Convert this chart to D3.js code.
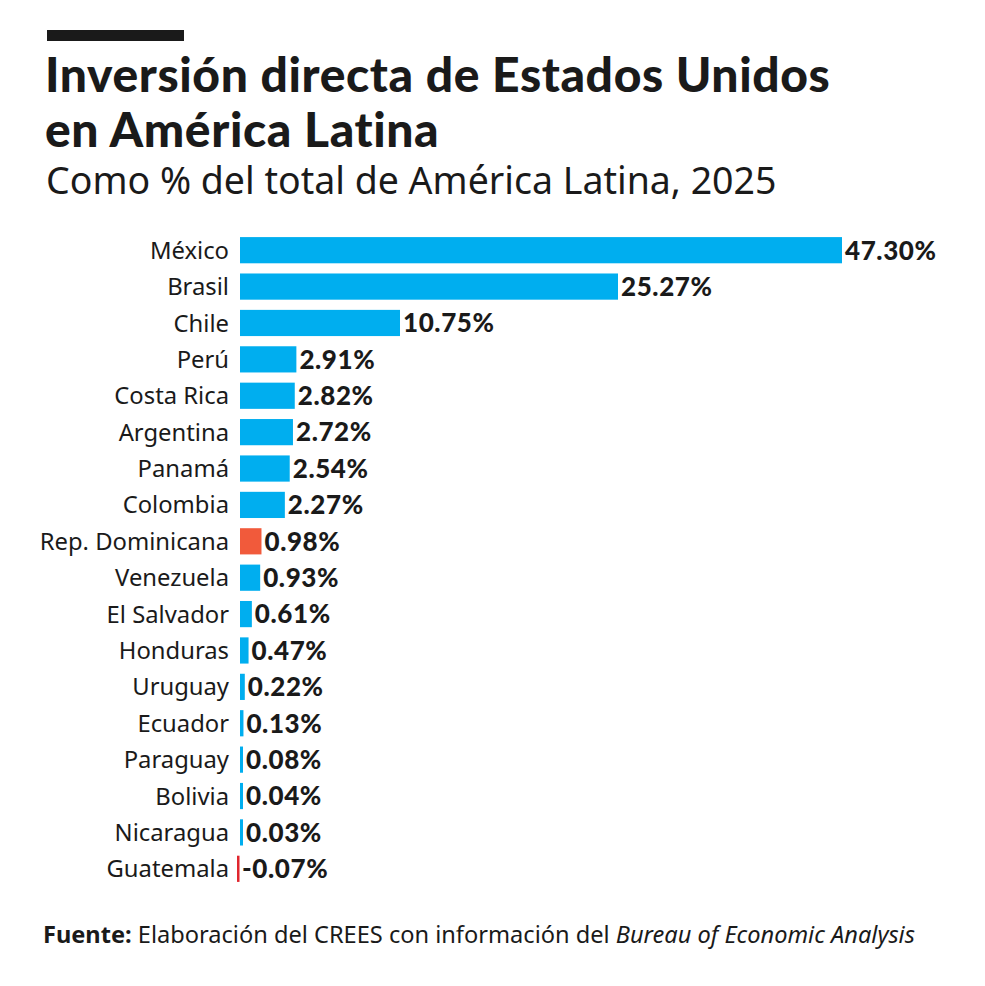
<!DOCTYPE html>
<html><head><meta charset="utf-8">
<script src="https://cdn.jsdelivr.net/npm/d3@7"></script>
<style>body{margin:0;background:#fff}</style>
</head><body>
<svg id="chart" width="985" height="986"></svg>
<script>
var countries = ["México","Brasil","Chile","Perú","Costa Rica","Argentina","Panamá","Colombia","Rep. Dominicana","Venezuela","El Salvador","Honduras","Uruguay","Ecuador","Paraguay","Bolivia","Nicaragua","Guatemala"];
var values = [47.30,25.27,10.75,2.91,2.82,2.72,2.54,2.27,0.98,0.93,0.61,0.47,0.22,0.13,0.08,0.04,0.03,-0.07];
var highlight = ["Rep. Dominicana"];

var svg = d3.select("#chart");
var font = "'Noto Sans', sans-serif";

// header
svg.append("rect").attr("x", 47).attr("y", 30).attr("width", 137).attr("height", 11).attr("fill", "#1a1a1a");
svg.append("text").attr("x", 45).attr("y", 92)
    .style("font-family", "Lato, sans-serif").style("font-weight", 900).style("font-size", "48px")
    .style("letter-spacing", "0.6px").attr("fill", "#1a1a1a").text("Inversión directa de Estados Unidos");
svg.append("text").attr("x", 45).attr("y", 147)
    .style("font-family", "Lato, sans-serif").style("font-weight", 900).style("font-size", "48px")
    .style("letter-spacing", "0.6px").attr("fill", "#1a1a1a").text("en América Latina");
svg.append("text").attr("x", 46).attr("y", 194)
    .style("font-family", font).style("font-size", "37.5px").attr("fill", "#1a1a1a")
    .text("Como % del total de América Latina, 2025");

// the bars are not drawn to a single linear scale in the original; piecewise scale
var x = d3.scaleLinear()
    .domain([0, 0.1, 0.5, 1, 3, 10.75, 25.27, 47.3])
    .range([0, 3, 9, 22, 58, 160, 378, 602]);
var x0 = 240;
var y = d3.scaleBand().domain(countries).range([232, 887]).paddingInner(0.28).paddingOuter(0.14);

var g = svg.append("g");
var rows = g.selectAll("g.row").data(countries.map((c, i) => ({name: c, v: values[i]})))
    .enter().append("g").attr("class", "row");

rows.append("rect")
    .attr("x", d => d.v < 0 ? x0 - 3 : x0)
    .attr("y", d => y(d.name))
    .attr("width", d => d.v < 0 ? 2.5 : Math.max(3, x(d.v)))
    .attr("height", y.bandwidth())
    .attr("fill", d => d.v < 0 ? "#e0262e" : (highlight.includes(d.name) ? "#f15a3b" : "#00aeef"));

rows.append("text")
    .attr("x", x0 - 11)
    .attr("y", d => y(d.name) + y.bandwidth() / 2)
    .attr("dy", "0.36em").attr("text-anchor", "end")
    .style("font-family", font).style("font-size", "23.8px").attr("fill", "#1a1a1a")
    .text(d => d.name);

rows.append("text")
    .attr("x", d => d.v < 0 ? x0 + 2 : x0 + Math.max(3, x(d.v)) + 3)
    .attr("y", d => y(d.name) + y.bandwidth() / 2)
    .attr("dy", "0.36em")
    .style("font-family", "Lato, sans-serif").style("font-weight", 900).style("font-size", "26px")
    .style("letter-spacing", "0.6px").attr("fill", "#1a1a1a")
    .text(d => d.v.toFixed(2) + "%");

// source
var src = svg.append("text").attr("x", 43).attr("y", 943)
    .style("font-family", font).style("font-size", "23.6px").attr("fill", "#1a1a1a");
src.append("tspan").style("font-weight", 700).text("Fuente:");
src.append("tspan").text(" Elaboración del CREES con información del ");
src.append("tspan").style("font-style", "italic").text("Bureau of Economic Analysis");
</script>
</body></html>
